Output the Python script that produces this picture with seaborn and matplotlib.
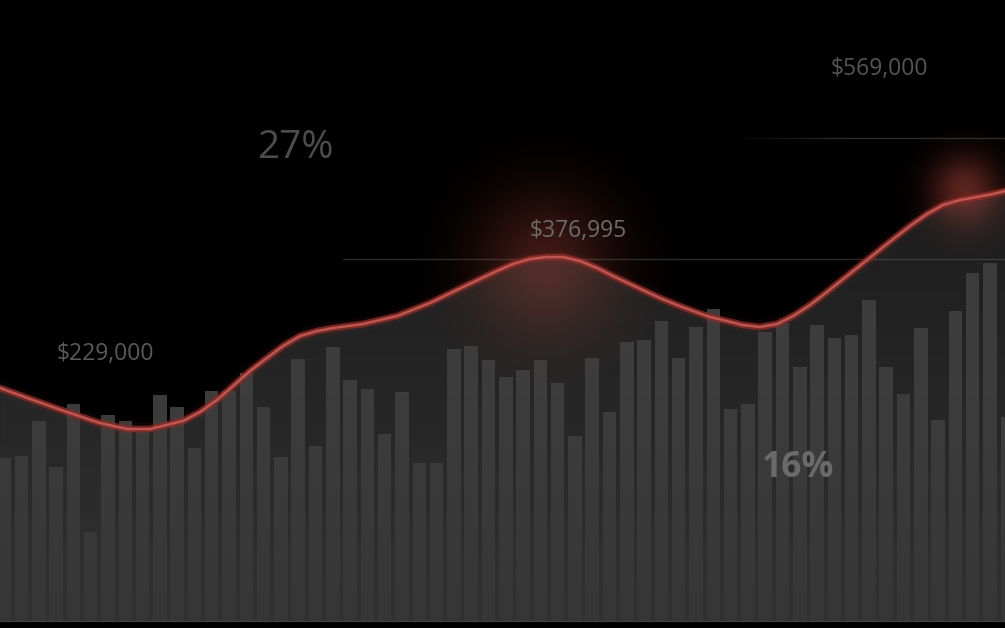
import numpy as np
import matplotlib.pyplot as plt
import seaborn as sns
from matplotlib.colors import to_rgb

# ----------------------------------------------------------
# DATOS
# ----------------------------------------------------------

# altura de cada barra (59 barras)
barras = [163, 165, 200, 154, 217, 89, 206, 200, 189, 226,
          214, 173, 230, 230, 248, 214, 164, 262, 175, 274,
          241, 232, 187, 229, 158, 158, 272, 275, 261, 244,
          251, 261, 238, 185, 263, 209, 279, 281, 300, 263,
          294, 312, 212, 217, 289, 298, 254, 296, 283, 286,
          321, 254, 227, 293, 201, 310, 348, 358, 204]

# curva roja (posición en unidades de barra, valor)
curva_pos = [-0.24, 1.67, 3.63, 5.54, 7.10, 8.43, 10.34, 11.32, 12.30, 13.23,
             14.21, 15.19, 16.12, 17.10, 18.09, 19.01, 20.75, 22.71, 24.62, 26.53,
             28.49, 29.42, 30.40, 31.38, 32.31, 33.29, 34.28, 35.20, 36.18, 37.17,
             37.92, 38.90, 39.83, 40.81, 41.79, 42.71, 43.70, 44.68, 45.61, 46.59,
             47.57, 48.73, 49.89, 51.04, 52.37, 53.36, 54.28, 55.26, 56.25, 57.17,
             57.87]
curva_val = [233, 221, 209, 198, 192, 192, 200, 209, 221, 235,
             250, 263, 275, 285, 290, 293, 297, 305, 318, 334,
             350, 357, 362, 364, 364, 360, 353, 345, 337, 329,
             323, 316, 310, 304, 300, 296, 294, 297, 305, 316,
             329, 345, 361, 377, 395, 407, 416, 421, 424, 427,
             430]

etiquetas = ["$229,000", "$376,995", "$569,000"]
porcentajes = ["27%", "16%"]
niveles = [362, 483]

# ----------------------------------------------------------
# ESTILO
# ----------------------------------------------------------

sns.set_theme(style="dark")
plt.rcParams["font.family"] = ["Open Sans", "DejaVu Sans"]

# conversión de pixeles de la imagen a coordenadas de datos
PASO = 17.295
X0 = 4.2
BASE = 621


def px_x(p):
    return (p - X0) / PASO


def px_y(p):
    return BASE - p


fig = plt.figure(figsize=(10.05, 6.28), dpi=100, facecolor="black")
ax = fig.add_axes([0, 0, 1, 1])
ax.set_facecolor("black")

xlim = (px_x(0), px_x(1005))
ylim = (px_y(628), px_y(0))

# ----------------------------------------------------------
# AREA BAJO LA CURVA (degradado)
# ----------------------------------------------------------

c_abajo = np.array(to_rgb("#303030"))
c_arriba = np.array(to_rgb("#1c1c1c"))
t = np.linspace(0, 1, 256)[:, None, None]
img = c_abajo * (1 - t) + c_arriba * t
im = ax.imshow(img, extent=(xlim[0], xlim[1], 0, 440), origin="lower",
               aspect="auto", zorder=1)
area = ax.fill_between(curva_pos, curva_val, 0, color="none", lw=0)
im.set_clip_path(area.get_paths()[0], ax.transData)

# ----------------------------------------------------------
# BARRAS
# ----------------------------------------------------------

sns.barplot(x=list(range(len(barras))), y=barras, color="#3c3c3c",
            saturation=1, width=0.78, errorbar=None, linewidth=0,
            ax=ax, zorder=2)

# desvanecido inferior
fade = np.zeros((256, 1, 4))
fade[..., :3] = to_rgb("#323232")
fade[..., 3] = np.clip(1 - np.linspace(0, 1, 256), 0, 1)[:, None] ** 1.3 * 0.6
ax.imshow(fade, extent=(xlim[0], xlim[1], 0, 230), origin="lower",
          aspect="auto", zorder=3)

# ----------------------------------------------------------
# BRILLOS ROJOS
# ----------------------------------------------------------


def brillo(cx, cy, radio, alfa, color="#b8483c"):
    n = 200
    g = np.linspace(-1, 1, n)
    xx, yy = np.meshgrid(g, g)
    r = np.sqrt(xx ** 2 + yy ** 2)
    rgba = np.zeros((n, n, 4))
    rgba[..., :3] = to_rgb(color)
    rgba[..., 3] = alfa * np.exp(-(r * 2.0) ** 2)
    ax.imshow(rgba, extent=(px_x(cx - radio), px_x(cx + radio),
                            px_y(cy + radio), px_y(cy - radio)),
              origin="lower", aspect="auto", zorder=4)


brillo(545, 262, 140, 0.34)
brillo(965, 190, 70, 0.5)

# ----------------------------------------------------------
# LINEAS DE REFERENCIA
# ----------------------------------------------------------

ax.axhline(niveles[0], xmin=343 / 1005, xmax=1, color="#777777",
           alpha=0.35, lw=1, zorder=4.5)
inicio = 735
for k in range(12):
    a = inicio + k * 10
    ax.axhline(niveles[1], xmin=a / 1005, xmax=(a + 10) / 1005,
               color="#2c2c2c", alpha=(k + 1) / 12, lw=1, zorder=4.5)
ax.axhline(niveles[1], xmin=(inicio + 120) / 1005, xmax=1,
           color="#2c2c2c", lw=1, zorder=4.5)
ax.axhline(0, color="#454545", lw=0.8, zorder=4.5)

# ----------------------------------------------------------
# CURVA
# ----------------------------------------------------------

ax.plot(curva_pos, curva_val, color="#b03a30", lw=10, alpha=0.06, zorder=5,
        solid_capstyle="round", solid_joinstyle="round")
ax.plot(curva_pos, curva_val, color="#8e2c26", lw=4.8, alpha=0.8, zorder=5,
        solid_capstyle="round", solid_joinstyle="round")
sns.lineplot(x=curva_pos, y=curva_val, color="#c8605a", lw=1.8, alpha=0.85,
             sort=False, estimator=None, ax=ax, zorder=6,
             solid_joinstyle="round")

# ----------------------------------------------------------
# TEXTOS
# ----------------------------------------------------------

ax.text(px_x(105), px_y(354), etiquetas[0], ha="center", va="center",
        fontsize=16.5, color="#5a5a5a", zorder=7)
ax.text(px_x(578), px_y(231), etiquetas[1], ha="center", va="center",
        fontsize=16.5, color="#6c6c6c", zorder=7)
ax.text(px_x(879), px_y(69), etiquetas[2], ha="center", va="center",
        fontsize=16.5, color="#555555", zorder=7)
ax.text(px_x(295), px_y(148), porcentajes[0], ha="center", va="center",
        fontsize=28, color="#4c4c4c", weight="medium", zorder=7)
ax.text(px_x(798), px_y(468), porcentajes[1], ha="center", va="center",
        fontsize=25.5, color="#6a6a6a", weight="bold", zorder=7)

ax.set_xlim(*xlim)
ax.set_ylim(*ylim)
ax.set_axis_off()

fig.savefig("out.png", dpi=100, facecolor="black")
plt.close(fig)
